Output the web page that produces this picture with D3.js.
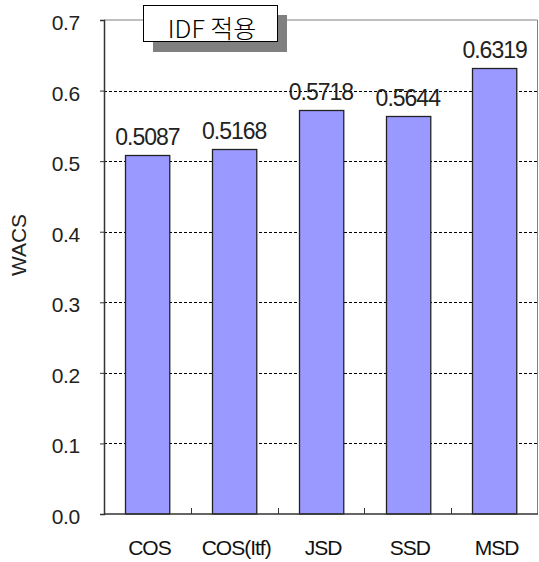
<!DOCTYPE html>
<html>
<head>
<meta charset="utf-8">
<script src="https://cdn.jsdelivr.net/npm/d3@7"></script>
<style>
  html, body { margin: 0; padding: 0; background: #fff; }
  svg { display: block; font-family: "Liberation Sans", Arial, sans-serif; }
</style>
</head>
<body>
<svg id="chart" width="539" height="562"></svg>
<script>
// Data
const categories = ["COS", "COS(Itf)", "JSD", "SSD", "MSD"];
const values = [0.5087, 0.5168, 0.5718, 0.5644, 0.6319];
const yTicks = [0.0, 0.1, 0.2, 0.3, 0.4, 0.5, 0.6, 0.7];
const legendLabel = "IDF 적용";
const yTitle = "WACS";

const svg = d3.select("#chart");
const margin = { left: 104, right: 1, top: 20, bottom: 48 };
const W = 539, H = 562;

const x = d3.scaleBand()
  .domain(categories)
  .range([margin.left, W - margin.right])
  .paddingInner(0.49)
  .paddingOuter(0.245);

const xBand = d3.scaleBand()
  .domain(categories)
  .range([margin.left, W - margin.right]);

const y = d3.scaleLinear()
  .domain([0, 0.7])
  .range([H - margin.bottom, margin.top]);

// Plot frame (top and right)
svg.append("path")
  .attr("d", `M${margin.left},${y(0.7)}H${W - margin.right - 0.5}V${y(0)}`)
  .attr("fill", "none")
  .attr("stroke", "#808080")
  .attr("stroke-width", 1);

// Dashed gridlines
svg.append("g")
  .selectAll("line")
  .data(yTicks.filter(t => t > 0 && t < 0.7))
  .join("line")
  .attr("x1", margin.left)
  .attr("x2", W - margin.right)
  .attr("y1", d => Math.round(y(d)) + 0.5)
  .attr("y2", d => Math.round(y(d)) + 0.5)
  .attr("stroke", "#000")
  .attr("stroke-width", 1)
  .attr("stroke-dasharray", "3,2");

// Bars
svg.append("g")
  .selectAll("rect")
  .data(values)
  .join("rect")
  .attr("x", (d, i) => Math.round(x(categories[i])) + 0.5)
  .attr("y", d => Math.round(y(d)) + 0.5)
  .attr("width", x.bandwidth())
  .attr("height", d => y(0) - Math.round(y(d)) - 0.5)
  .attr("fill", "#9999FF")
  .attr("stroke", "#222")
  .attr("stroke-width", 1.3);

// Value labels
svg.append("g")
  .selectAll("text")
  .data(values)
  .join("text")
  .attr("x", (d, i) => x(categories[i]) + x.bandwidth() / 2)
  .attr("y", d => y(d) - 10)
  .attr("text-anchor", "middle")
  .attr("font-size", 23)
  .attr("letter-spacing", "-1px")
  .attr("fill", "#222")
  .text(d => d.toFixed(4));

// Y axis
const yAxis = d3.axisLeft(y)
  .tickValues(yTicks)
  .tickFormat(d3.format(".1f"))
  .tickSize(4)
  .tickPadding(20);
const gy = svg.append("g")
  .attr("transform", `translate(${margin.left},0)`)
  .call(yAxis);
gy.select(".domain").attr("stroke", "#333").attr("stroke-width", 1.5);
gy.selectAll(".tick line").attr("stroke", "#333");
gy.selectAll(".tick text")
  .attr("font-size", 21)
  .attr("dy", "0.45em")
  .attr("letter-spacing", "-0.3px")
  .attr("fill", "#222")
  .attr("font-family", "Liberation Sans, Arial, sans-serif");

// X axis with inward ticks at band boundaries
const gx = svg.append("g")
  .attr("transform", `translate(0,${y(0)})`);
gx.append("line")
  .attr("x1", margin.left)
  .attr("x2", W - margin.right)
  .attr("stroke", "#333")
  .attr("stroke-width", 1.5);
gx.selectAll("line.tk")
  .data(categories.slice(1))
  .join("line")
  .attr("class", "tk")
  .attr("x1", d => Math.round(xBand(d)) + 0.5)
  .attr("x2", d => Math.round(xBand(d)) + 0.5)
  .attr("y1", 0)
  .attr("y2", -6)
  .attr("stroke", "#333");
gx.selectAll("text")
  .data(categories)
  .join("text")
  .attr("x", d => xBand(d) + xBand.bandwidth() / 2 + 2)
  .attr("y", 41)
  .attr("text-anchor", "middle")
  .attr("font-size", 21)
  .attr("letter-spacing", "-1px")
  .attr("fill", "#111")
  .text(d => d);

// Y title
svg.append("text")
  .attr("transform", `translate(26,${(y(0) + y(0.7)) / 2 - 22}) rotate(-90)`)
  .attr("text-anchor", "middle")
  .attr("font-size", 21)
  .attr("fill", "#222")
  .text(yTitle);

// Legend box with drop shadow
const lg = svg.append("g");
lg.append("rect")
  .attr("x", 153).attr("y", 15).attr("width", 134).attr("height", 37)
  .attr("fill", "#808080");
lg.append("rect")
  .attr("x", 143.5).attr("y", 5.5).attr("width", 134).attr("height", 36)
  .attr("fill", "#fff")
  .attr("stroke", "#000")
  .attr("stroke-width", 1);
lg.append("text")
  .attr("x", 212)
  .attr("y", 38)
  .attr("text-anchor", "middle")
  .attr("font-size", 25)
  .attr("font-family", "Noto Sans CJK KR, sans-serif")
  .attr("font-weight", 300)
  .attr("fill", "#000")
  .text(legendLabel);
</script>
</body>
</html>
